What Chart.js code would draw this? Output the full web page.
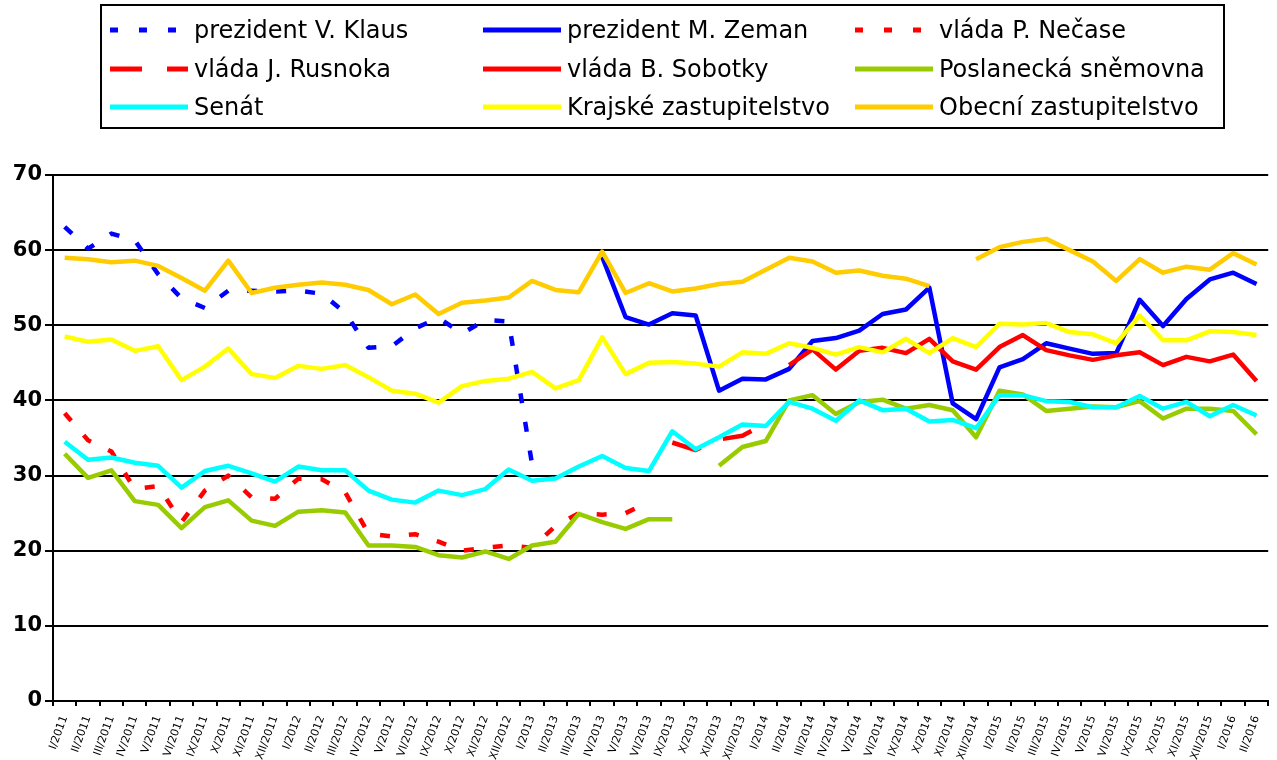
<!DOCTYPE html>
<html lang="cs">
<head>
<meta charset="UTF-8">
<title>Důvěra v ústavní instituce 2011-2016</title>
<script src="https://cdn.jsdelivr.net/npm/chart.js@4"></script>
<style>
    body { margin: 0; background: #fff; }
    #wrap { position: relative; width: 1277px; height: 760px; }
    #graf { position: absolute; left: 0; top: 0; }
    #legenda {
        position: absolute; left: 100px; top: 4px; width: 1121px; height: 121px;
        border: 2px solid #000; font-family: "DejaVu Sans", sans-serif; font-size: 24px; color: #000;
    }
    .polozka { position: absolute; display: flex; align-items: center; height: 32px; white-space: nowrap; }
    .polozka svg { margin-right: 6px; }
</style>
</head>
<body>
<div id="wrap">
    <canvas id="graf" width="1277" height="760"></canvas>
    <div id="legenda"></div>
</div>
<script>
// kategorie - mesice setreni (cervenec a srpen se nesetri)
const kategorie = [
    'I/2011','II/2011','III/2011','IV/2011','V/2011','VI/2011','IX/2011','X/2011','XI/2011','XII/2011',
    'I/2012','II/2012','III/2012','IV/2012','V/2012','VI/2012','IX/2012','X/2012','XI/2012','XII/2012',
    'I/2013','II/2013','III/2013','IV/2013','V/2013','VI/2013','IX/2013','X/2013','XI/2013','XII/2013',
    'I/2014','II/2014','III/2014','IV/2014','V/2014','VI/2014','IX/2014','X/2014','XI/2014','XII/2014',
    'I/2015','II/2015','III/2015','IV/2015','V/2015','VI/2015','IX/2015','X/2015','XI/2015','XII/2015',
    'I/2016','II/2016'
];

// hodnoty v %
const klaus = [63.1, 60.2, 62.2, 61.3, 56.8, 53.6, 52.3, 54.6, 54.6, 54.5,
    54.6, 54.2, 51.7, 47.0, 47.2, 49.6, 51.0, 48.9, 50.7, 50.5, 31.5];
const zeman = [null, null, null, null, null, null, null, null, null, null,
    null, null, null, null, null, null, null, null, null, null,
    null, null, null, 59.1, 51.1, 50.1, 51.6, 51.3, 41.3, 42.9,
    42.8, 44.2, 47.9, 48.3, 49.3, 51.5, 52.1, 55.0, 39.6, 37.5,
    44.4, 45.5, 47.6, 46.9, 46.2, 46.3, 53.4, 49.9, 53.5, 56.1,
    57.0, 55.5];
const necas = [38.3, 34.7, 33.2, 28.2, 28.6, 23.8, 28.0, 30.0, 27.1, 26.9,
    29.6, 29.5, 27.8, 22.3, 21.9, 22.2, 21.2, 20.0, 20.4, 20.7,
    20.4, 23.3, 25.0, 24.8, 25.0, 26.5];
const rusnok = [null, null, null, null, null, null, null, null, null, null,
    null, null, null, null, null, null, null, null, null, null,
    null, null, null, null, null, null, 34.4, 33.4, 34.8, 35.3,
    36.9];
const sobotka = [null, null, null, null, null, null, null, null, null, null,
    null, null, null, null, null, null, null, null, null, null,
    null, null, null, null, null, null, null, null, null, null,
    null, 44.7, 46.8, 44.1, 46.6, 47.0, 46.3, 48.2, 45.2, 44.1,
    47.1, 48.7, 46.7, 46.0, 45.4, 46.0, 46.4, 44.7, 45.8, 45.2,
    46.1, 42.6];
const snemovna = [32.9, 29.7, 30.7, 26.6, 26.1, 23.0, 25.8, 26.7, 24.0, 23.3,
    25.2, 25.4, 25.1, 20.7, 20.7, 20.5, 19.4, 19.1, 19.9, 18.9,
    20.7, 21.2, 24.9, 23.8, 22.9, 24.2, 24.2, null, 31.3, 33.8,
    34.6, 40.0, 40.7, 38.2, 39.8, 40.1, 38.9, 39.4, 38.7, 35.1,
    41.3, 40.8, 38.6, 38.9, 39.2, 39.1, 39.9, 37.6, 38.9, 38.9,
    38.6, 35.5];
const senat = [34.5, 32.1, 32.4, 31.7, 31.3, 28.4, 30.6, 31.3, 30.3, 29.2,
    31.2, 30.7, 30.7, 28.0, 26.8, 26.4, 28.0, 27.4, 28.2, 30.8,
    29.3, 29.6, 31.2, 32.6, 31.0, 30.6, 35.9, 33.5, 35.1, 36.8,
    36.6, 39.8, 38.9, 37.3, 40.0, 38.7, 38.9, 37.2, 37.4, 36.3,
    40.7, 40.7, 39.9, 39.8, 39.1, 39.1, 40.6, 38.9, 39.8, 37.9,
    39.4, 38.0];
const krajske = [48.5, 47.8, 48.1, 46.6, 47.2, 42.7, 44.5, 46.9, 43.5, 43.0,
    44.6, 44.2, 44.7, 43.1, 41.3, 40.9, 39.7, 41.9, 42.6, 42.9,
    43.8, 41.6, 42.7, 48.4, 43.5, 45.0, 45.1, 44.9, 44.5, 46.4,
    46.2, 47.6, 47.0, 46.1, 47.1, 46.4, 48.2, 46.3, 48.3, 47.1,
    50.2, 50.1, 50.3, 49.1, 48.8, 47.6, 51.3, 48.0, 48.0, 49.2,
    49.1, 48.7];
const obecni = [59.0, 58.8, 58.4, 58.6, 57.9, 56.3, 54.6, 58.6, 54.3, 55.0,
    55.4, 55.7, 55.4, 54.7, 52.8, 54.1, 51.5, 53.0, 53.3, 53.7,
    55.9, 54.7, 54.4, 59.8, 54.3, 55.6, 54.5, 54.9, 55.5, 55.8,
    57.4, 59.0, 58.5, 57.0, 57.3, 56.6, 56.2, 55.2, null, 58.8,
    60.4, 61.1, 61.5, 60.0, 58.5, 55.9, 58.8, 57.0, 57.8, 57.4,
    59.6, 58.1];

const yTicks = [0, 10, 20, 30, 40, 50, 60, 70];

const nazvy = ['prezident V. Klaus', 'prezident M. Zeman', 'vláda P. Nečase',
    'vláda J. Rusnoka', 'vláda B. Sobotky', 'Poslanecká sněmovna',
    'Senát', 'Krajské zastupitelstvo', 'Obecní zastupitelstvo'];
const rady = [klaus, zeman, necas, rusnok, sobotka, snemovna, senat, krajske, obecni];
const barvy = ['#0000ff', '#0000ff', '#ff0000', '#ff0000', '#ff0000', '#99cc00', '#00ffff', '#ffff00', '#ffcc00'];
const carky = [[10, 19], [], [10, 19], [30, 24], [], [], [], [], []];

const datasets = rady.map(function (d, i) {
    return {
        label: nazvy[i],
        data: d,
        borderColor: barvy[i],
        backgroundColor: barvy[i],
        borderWidth: 4.5,
        borderDash: carky[i],
        borderCapStyle: 'butt',
        borderJoinStyle: 'round',
        pointRadius: 0,
        tension: 0,
        spanGaps: false,
        order: rady.length - i   // jako v Excelu: posledni rada navrchu
    };
});

const ctx = document.getElementById('graf');
const graf = new Chart(ctx, {
    type: 'line',
    data: { labels: kategorie, datasets: datasets },
    options: {
        responsive: false,
        animation: false,
        layout: { padding: { top: 175, right: 7, left: 0, bottom: 0 } },
        plugins: { legend: { display: false }, tooltip: { enabled: false } },
        scales: {
            x: {
                offset: true,
                grid: { offset: true, drawOnChartArea: false, drawTicks: true, tickLength: 5, color: '#000', lineWidth: 2 },
                border: { color: '#000', width: 2 },
                ticks: {
                    autoSkip: false, minRotation: 70, maxRotation: 70, padding: 8,
                    color: '#000', font: { family: 'DejaVu Sans', size: 11 }
                },
                afterFit: function (s) { s.height = 59; }
            },
            y: {
                min: 0, max: 70,
                afterBuildTicks: function (s) { s.ticks = yTicks.map(function (v) { return { value: v }; }); },
                grid: { color: '#000', lineWidth: 2, tickLength: 8 },
                border: { color: '#000', width: 2 },
                ticks: { color: '#000', padding: 3, font: { family: 'DejaVu Sans', size: 21, weight: 'bold' } },
                afterFit: function (s) { s.width = 53; }
            }
        }
    }
});

// legenda ve trech sloupcich
const sloupce = [6, 379, 751];
const radky = [8, 47, 85];
const leg = document.getElementById('legenda');
nazvy.forEach(function (n, i) {
    const el = document.createElement('div');
    el.className = 'polozka';
    el.style.left = sloupce[i % 3] + 'px';
    el.style.top = radky[Math.floor(i / 3)] + 'px';
    const dash = carky[i].length ? ' stroke-dasharray="' + (i === 3 ? '32 25' : '8 21') + '"' : '';
    el.innerHTML = '<svg width="80" height="10"><line x1="2" y1="5" x2="80" y2="5" stroke="' + barvy[i] +
        '" stroke-width="5"' + dash + '/></svg><span>' + n + '</span>';
    leg.appendChild(el);
});
</script>
</body>
</html>
